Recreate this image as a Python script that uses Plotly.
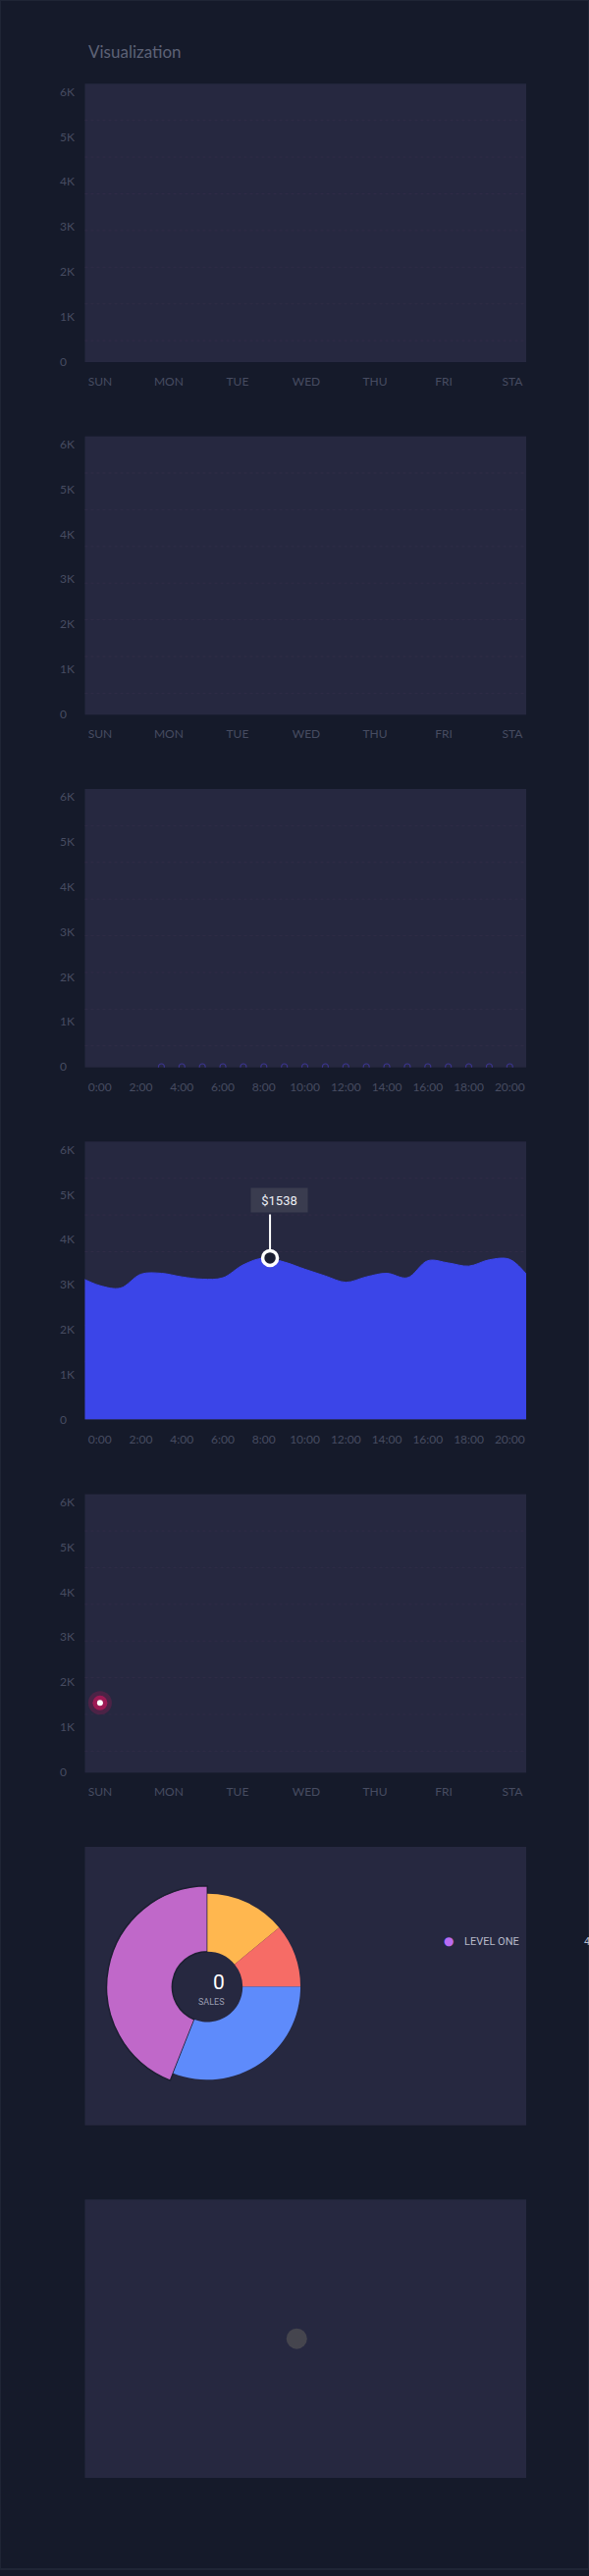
import plotly.graph_objects as go

# ---------------- data ----------------
days = ["SUN", "MON", "TUE", "WED", "THU", "FRI", "STA"]
day_index = [0, 1, 2, 3, 4, 5, 6]
hour_ticks = [0, 2, 4, 6, 8, 10, 12, 14, 16, 18, 20]
hour_labels = ["0:00", "2:00", "4:00", "6:00", "8:00", "10:00", "12:00", "14:00", "16:00", "18:00", "20:00"]
y_ticks = [0, 1000, 2000, 3000, 4000, 5000, 6000]
y_labels = ["0", "1K", "2K", "3K", "4K", "5K", "6K"]

# panel 3: flat series sitting on zero
flat_hours = [3, 4, 5, 6, 7, 8, 9, 10, 11, 12, 13, 14, 15, 16, 17, 18, 19, 20]
flat_values = [0, 0, 0, 0, 0, 0, 0, 0, 0, 0, 0, 0, 0, 0, 0, 0, 0, 0]

# panel 4: area series
area_hours = [-1, 0, 1, 2, 3, 4, 5, 6, 7, 8, 9, 10, 11, 12, 13, 14, 15, 16, 17, 18, 19, 20, 21]
area_values = [3170, 2975, 2920, 3230, 3250, 3170, 3120, 3150, 3440, 3590, 3500, 3340, 3190,
               3050, 3170, 3250, 3150, 3530, 3480, 3410, 3550, 3560, 3120]
peak_hour = [8.3]
peak_value = [3590]
tooltip_text = "$1538"

# panel 5: single glowing point
point_day = [0]
point_value = [1538]

# panel 6: donut
donut_labels = ["LEVEL FOUR", "LEVEL THREE", "LEVEL TWO", "LEVEL ONE"]
donut_values = [14, 11, 31, 44]
donut_colors = ["#ffb74f", "#f66c66", "#5e8bfb", "#c068c9"]
center_value = "0"
center_label = "SALES"
legend_label = "LEVEL ONE"
legend_value = "4"

# panel 7: loading dot
dot_x = [0]
dot_y = [0]

# ---------------- geometry / style ----------------
W, H = 600, 2625
PL, PR = 86.5, 536.0
TOP0, STEP, PH = 85.5, 360.3, 284.5
GRID_STEP = 37.5
PAPER = "#151a2a"
PLOTBG = "#262840"
TICKC = "#474c61"
GRIDC = "#302c46"
FONT = "Lato, 'Open Sans', sans-serif"


def px_x(x):
    return x / W


def px_y(y):
    return 1 - y / H


def ydom(i):
    top = TOP0 + STEP * i
    return [px_y(top + PH), px_y(top)]


def sid(n):
    return "" if n == 1 else str(n)


xdom = [px_x(PL), px_x(PR)]

fig = go.Figure()
layout = dict(
    width=W, height=H, autosize=False,
    margin=dict(l=0, r=0, t=0, b=0),
    paper_bgcolor=PAPER, plot_bgcolor=PLOTBG,
    showlegend=False,
    font=dict(family=FONT, color=TICKC, size=12),
)

Y_RANGE = [-15, 6180]
shapes = []

for i in range(5):
    n = i + 1
    s = sid(n)
    xa = dict(domain=xdom, anchor=f"y{s}", showgrid=False, zeroline=False, showline=False,
              ticks="", tickfont=dict(family=FONT, size=12, color=TICKC), ticklabelstandoff=11,
              fixedrange=True)
    if i in (2, 3):
        xa.update(range=[-0.733, 20.8], tickmode="array", tickvals=hour_ticks, ticktext=hour_labels)
    else:
        xa.update(range=[-0.22, 6.2], tickmode="array", tickvals=day_index, ticktext=days)
    layout[f"xaxis{s}"] = xa
    layout[f"yaxis{s}"] = dict(domain=ydom(i), anchor="free", position=px_x(57), side="left",
                               range=Y_RANGE, tickmode="array", tickvals=y_ticks, ticktext=y_labels,
                               ticklabelposition="inside", ticklabeloverflow="allow",
                               ticklabelstandoff=0,
                               showgrid=False, zeroline=False, showline=False, ticks="",
                               tickfont=dict(family=FONT, size=12, color=TICKC), fixedrange=True)
    # faint dotted background grid, evenly spaced from the top of the panel
    k = 1
    while k * GRID_STEP < PH - 5:
        yy = 1 - k * GRID_STEP / PH
        shapes.append(dict(type="line", xref=f"x{s} domain", yref=f"y{s} domain", x0=0, x1=1,
                           y0=yy, y1=yy, layer="below", line=dict(color=GRIDC, width=1, dash="dot")))
        k += 1
    if i in (0, 1):
        fig.add_trace(go.Scatter(x=[None], y=[None], xaxis=f"x{s}", yaxis=f"y{s}", hoverinfo="skip"))

for i in (5, 6):
    n = i + 1
    layout[f"xaxis{n}"] = dict(domain=xdom, anchor=f"y{n}", visible=False, range=[-0.96, 1.04],
                               fixedrange=True)
    layout[f"yaxis{n}"] = dict(domain=ydom(i), anchor=f"x{n}", visible=False, range=[-1, 1],
                               fixedrange=True)
fig.add_trace(go.Scatter(x=[None], y=[None], xaxis="x6", yaxis="y6", hoverinfo="skip"))

# panel 3 flat markers
fig.add_trace(go.Scatter(x=flat_hours, y=flat_values, xaxis="x3", yaxis="y3", mode="markers",
                         marker=dict(size=6, color="rgba(0,0,0,0)", line=dict(color="#3c3590", width=1.2)),
                         cliponaxis=True, hoverinfo="skip"))

# panel 4 area
fig.add_trace(go.Scatter(x=area_hours, y=area_values, xaxis="x4", yaxis="y4", mode="lines",
                         line=dict(color="#3b45e8", width=1, shape="spline", smoothing=1.0),
                         fill="tozeroy", fillcolor="#3b45e8", hoverinfo="skip"))
fig.add_trace(go.Scatter(x=peak_hour, y=peak_value, xaxis="x4", yaxis="y4", mode="markers",
                         marker=dict(size=15, color="#1b1e31", line=dict(color="#ffffff", width=3.5)),
                         cliponaxis=False, hoverinfo="skip"))

# panel 5 glowing point
for size, color in ((24, "rgba(214,16,92,0.22)"), (15, "rgba(224,20,96,0.55)"), (6, "#ffffff")):
    fig.add_trace(go.Scatter(x=point_day, y=point_value, xaxis="x5", yaxis="y5", mode="markers",
                             marker=dict(size=size, color=color, line=dict(width=0)),
                             cliponaxis=False, hoverinfo="skip"))

# panel 7 loading dot
fig.add_trace(go.Scatter(x=dot_x, y=dot_y, xaxis="x7", yaxis="y7", mode="markers",
                         marker=dict(size=21, color="#45454e", line=dict(width=0)), hoverinfo="skip"))

# panel 6 donut (purple slice slightly larger)
CX, CY = 211.3, 2030.0
R_BIG, R_SMALL, R_HOLE = 103.0, 95.0, 36.0
fig.add_trace(go.Pie(labels=donut_labels, values=donut_values, sort=False, direction="clockwise",
                     rotation=0, hole=R_HOLE / R_BIG, textinfo="none", hoverinfo="label+percent",
                     marker=dict(colors=["rgba(0,0,0,0)", "rgba(0,0,0,0)", "rgba(0,0,0,0)", donut_colors[3]],
                                 line=dict(color=["rgba(0,0,0,0)"] * 3 + ["#1c1f31"], width=[0, 0, 0, 1.5])),
                     domain=dict(x=[px_x(CX - R_BIG), px_x(CX + R_BIG)], y=[px_y(CY + R_BIG), px_y(CY - R_BIG)])))
fig.add_trace(go.Pie(labels=donut_labels, values=donut_values, sort=False, direction="clockwise",
                     rotation=0, hole=R_HOLE / R_SMALL, textinfo="none", hoverinfo="label+percent",
                     marker=dict(colors=donut_colors[:3] + ["rgba(0,0,0,0)"], line=dict(width=0)),
                     domain=dict(x=[px_x(CX - R_SMALL), px_x(CX + R_SMALL)], y=[px_y(CY + R_SMALL), px_y(CY - R_SMALL)])))

annotations = [
    dict(text="Visualization", x=px_x(88), y=px_y(53), xref="paper", yref="paper", xanchor="left",
         yanchor="middle", showarrow=False, font=dict(family=FONT, size=17, color="#5d6276")),
    # tooltip stem
    dict(text="", x=peak_hour[0], y=peak_value[0], xref="x4", yref="y4", showarrow=True, ax=0, ay=-46,
         arrowhead=0, arrowwidth=2, arrowcolor="#ffffff", standoff=9),
    # tooltip box
    dict(text=tooltip_text, x=peak_hour[0], y=peak_value[0], xref="x4", yref="y4", showarrow=False,
         xanchor="center", yanchor="bottom", xshift=9, yshift=46, width=57, height=24, borderpad=0,
         bgcolor="#3a3c4f", font=dict(family="Roboto, sans-serif", size=13, color="#eceef4")),
    # donut center
    dict(text=center_value, x=px_x(223.3), y=px_y(2025.5), xref="paper", yref="paper", showarrow=False,
         xanchor="center", yanchor="middle", font=dict(family="Roboto, sans-serif", size=21, color="#ffffff")),
    dict(text=center_label, x=px_x(215), y=px_y(2045.5), xref="paper", yref="paper", showarrow=False,
         xanchor="center", yanchor="middle", font=dict(family="Roboto, sans-serif", size=9, color="#9a9db0")),
    # custom legend
    dict(text='<span style="color:#b96cf2">●</span>', x=px_x(456.6), y=px_y(1983.3), xref="paper",
         yref="paper", showarrow=False, xanchor="center", yanchor="middle",
         font=dict(family="DejaVu Sans, sans-serif", size=12, color="#b96cf2")),
    dict(text=legend_label, x=px_x(470.5), y=px_y(1983.3), xref="paper", yref="paper", showarrow=False,
         xanchor="left", yanchor="middle", font=dict(family="Roboto, sans-serif", size=11, color="#b8bbca")),
    dict(text=legend_value, x=px_x(592.5), y=px_y(1983.3), xref="paper", yref="paper", showarrow=False,
         xanchor="left", yanchor="middle", font=dict(family="Roboto, sans-serif", size=11, color="#b8bbca")),
]
layout["annotations"] = annotations
shapes.append(dict(type="rect", xref="paper", yref="paper", x0=0, x1=1, y0=0, y1=1,
                   line=dict(color="#1f2535", width=2), fillcolor="rgba(0,0,0,0)", layer="above"))
layout["shapes"] = shapes

fig.update_layout(**layout)
page_js = ("document.body.style.margin='0px';document.body.style.padding='0px';"
           "document.body.style.background='" + PAPER + "';"
           "document.documentElement.style.background='" + PAPER + "';")
fig.write_html("out.html", include_plotlyjs=True, post_script=page_js,
               config={"displayModeBar": False})
